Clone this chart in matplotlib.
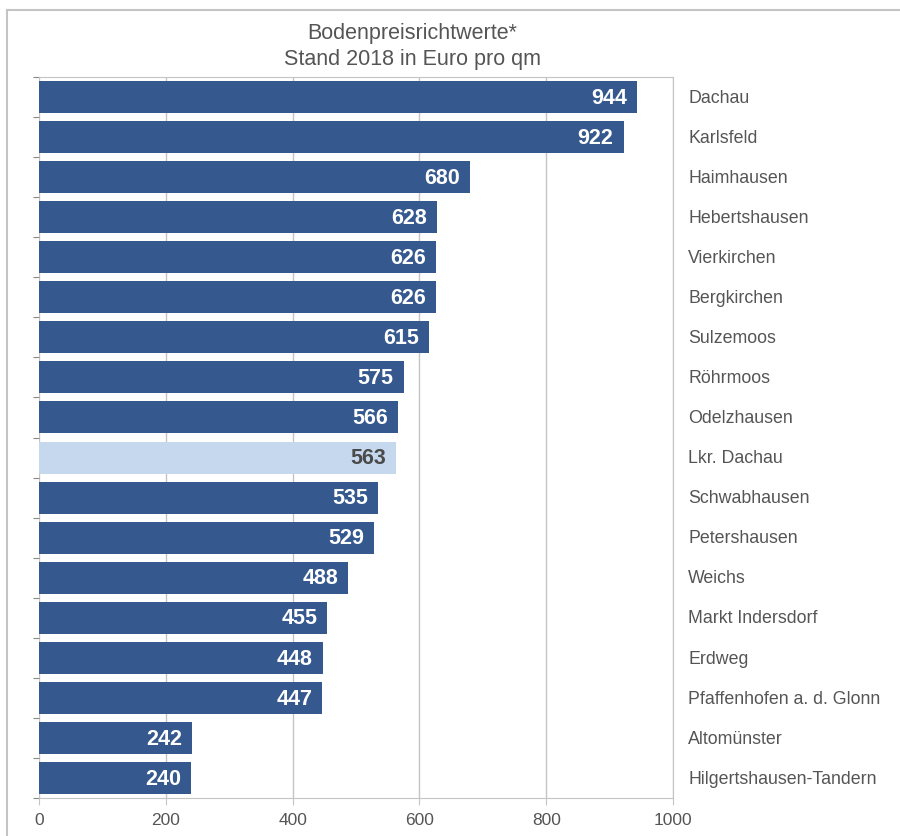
import matplotlib
matplotlib.use("Agg")
import matplotlib.pyplot as plt
from matplotlib.lines import Line2D

orte = ["Dachau", "Karlsfeld", "Haimhausen", "Hebertshausen", "Vierkirchen",
        "Bergkirchen", "Sulzemoos", "Röhrmoos", "Odelzhausen", "Lkr. Dachau",
        "Schwabhausen", "Petershausen", "Weichs", "Markt Indersdorf", "Erdweg",
        "Pfaffenhofen a. d. Glonn", "Altomünster", "Hilgertshausen-Tandern"]
werte = [944, 922, 680, 628, 626, 626, 615, 575, 566, 563,
         535, 529, 488, 455, 448, 447, 242, 240]
x_ticks = [0, 200, 400, 600, 800, 1000]

dunkel = "#35598f"
hell = "#c6d8ee"
grau = "#555555"
linie = "#c4c4c4"

plt.rcParams["font.family"] = ["Liberation Sans", "DejaVu Sans"]

fig = plt.figure(figsize=(9, 8.36), dpi=100)
ax = fig.add_axes([39 / 900, 1 - 798 / 836, (673 - 39) / 900, (798 - 77) / 836])

y = list(range(len(orte)))
farben = [hell if o == "Lkr. Dachau" else dunkel for o in orte]
ax.barh(y, werte, height=0.8, color=farben, zorder=2)

for i, (o, w) in enumerate(zip(orte, werte)):
    c = "#4a4a4a" if o == "Lkr. Dachau" else "white"
    ax.text(w - 16, i + 0.03, str(w), ha="right", va="center", color=c,
            fontsize=15.5, fontweight="bold", zorder=3)
    ax.text(1.0 + 15 / 634, i + 0.03, o, transform=ax.get_yaxis_transform(),
            ha="left", va="center", color=grau, fontsize=12.8)

ax.set_xlim(0, 1000)
ax.set_ylim(len(orte) - 0.5, -0.5)
ax.set_xticks(x_ticks)
ax.set_xticklabels([str(t) for t in x_ticks], fontsize=12.5, color=grau)
ax.set_yticks([i + 0.5 for i in range(-1, len(orte))])
ax.set_yticklabels([])
ax.tick_params(axis="y", length=4, color="#888888", direction="out")
ax.tick_params(axis="x", length=5, color=linie, pad=6)
ax.xaxis.grid(True, color=linie, linewidth=1, zorder=1)
ax.set_axisbelow(True)
for s in ["top", "right", "bottom"]:
    ax.spines[s].set_color(linie)
ax.spines["left"].set_visible(False)

fig.text(412 / 900, 1 - 33 / 836, "Bodenpreisrichtwerte*", ha="center", va="center",
         fontsize=15.5, color=grau)
fig.text(412 / 900, 1 - 59 / 836, "Stand 2018 in Euro pro qm", ha="center", va="center",
         fontsize=15.5, color=grau)

# äußerer Rahmen
fig.add_artist(Line2D([7 / 900, 1], [1 - 10 / 836, 1 - 10 / 836], color=linie, lw=1.5,
                      transform=fig.transFigure))
fig.add_artist(Line2D([7 / 900, 7 / 900], [0, 1 - 10 / 836], color=linie, lw=1.5,
                      transform=fig.transFigure))

fig.savefig("out.png", dpi=100)
